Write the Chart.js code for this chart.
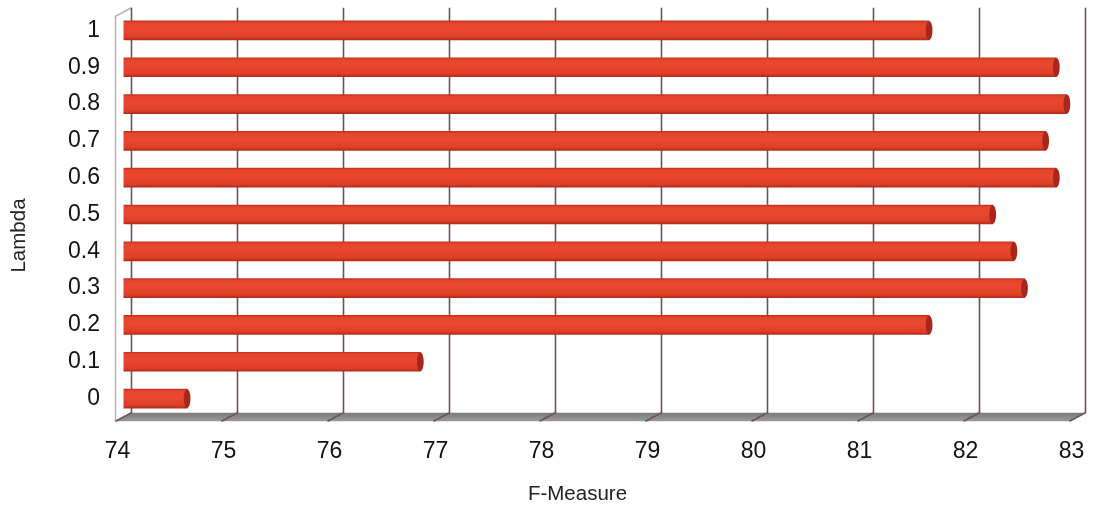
<!DOCTYPE html>
<html lang="en">
<head>
    <meta charset="UTF-8">
    <title>F-Measure by Lambda</title>
    <script src="https://cdn.jsdelivr.net/npm/chart.js"></script>
    <style>
        html, body { margin: 0; padding: 0; background: #fff; }
        .chart-box { width: 1095px; height: 508px; position: relative; }
    </style>
</head>
<body>
    <div class="chart-box">
        <canvas id="lambdaChart"></canvas>
    </div>

    <script>
        // Data (top row first)
        const lambdas = ['1', '0.9', '0.8', '0.7', '0.6', '0.5', '0.4', '0.3', '0.2', '0.1', '0'];
        const fMeasure = [81.6, 82.8, 82.9, 82.7, 82.8, 82.2, 82.4, 82.5, 81.6, 76.8, 74.6];
        const xMin = 74;
        const xMax = 83;
        const xStep = 1;

        const FONT = '"Liberation Sans", Arial, Helvetica, sans-serif';
        const BAR_RED = '#e4432a';
        const CAP_RED = '#a9271a';
        const GRID = '#6b5450';
        const DEPTH_X = 8;   // half of the fake 3D depth
        const DEPTH_Y = 4.25;
        const BAR_H = 19;

        // cylinder-ish shading for each bar
        function barFill(c) {
            const chart = c.chart;
            const ys = chart.scales && chart.scales.y;
            if (!chart.chartArea || !ys || c.dataIndex === undefined) return BAR_RED;
            const yc = ys.getPixelForValue(c.dataIndex);
            const g = chart.ctx.createLinearGradient(0, yc - BAR_H / 2, 0, yc + BAR_H / 2);
            g.addColorStop(0, '#c3341f');
            g.addColorStop(0.12, '#e6462d');
            g.addColorStop(0.45, '#e8482e');
            g.addColorStop(0.85, '#dd3f27');
            g.addColorStop(1, '#b02b1b');
            return g;
        }

        // floor, left wall and back gridlines
        const frame3d = {
            id: 'frame3d',
            beforeDatasetsDraw(chart) {
                const { ctx, chartArea: a, scales } = chart;
                const x = scales.x;
                ctx.save();

                // floor
                ctx.beginPath();
                ctx.moveTo(a.left + DEPTH_X, a.bottom - DEPTH_Y);
                ctx.lineTo(a.right + DEPTH_X, a.bottom - DEPTH_Y);
                ctx.lineTo(a.right - DEPTH_X, a.bottom + DEPTH_Y);
                ctx.lineTo(a.left - DEPTH_X, a.bottom + DEPTH_Y);
                ctx.closePath();
                const fg = ctx.createLinearGradient(0, a.bottom - DEPTH_Y, 0, a.bottom + DEPTH_Y);
                fg.addColorStop(0, '#7a7a7a');
                fg.addColorStop(1, '#9a9a9a');
                ctx.fillStyle = fg;
                ctx.fill();

                // left wall edge
                ctx.strokeStyle = '#b4b4b4';
                ctx.lineWidth = 1.5;
                ctx.beginPath();
                ctx.moveTo(a.left - DEPTH_X, a.bottom + DEPTH_Y);
                ctx.lineTo(a.left - DEPTH_X, a.top + DEPTH_Y);
                ctx.lineTo(a.left + DEPTH_X, a.top - DEPTH_Y);
                ctx.stroke();

                // gridlines on the back wall, folding down over the floor
                ctx.strokeStyle = GRID;
                ctx.lineWidth = 1.6;
                x.ticks.forEach(t => {
                    const px = x.getPixelForValue(t.value);
                    ctx.beginPath();
                    ctx.moveTo(px + DEPTH_X, a.top - DEPTH_Y);
                    ctx.lineTo(px + DEPTH_X, a.bottom - DEPTH_Y);
                    ctx.lineTo(px - DEPTH_X, a.bottom + DEPTH_Y);
                    ctx.stroke();
                });

                // rounded back end of each bar
                const meta = chart.getDatasetMeta(0);
                meta.data.forEach(bar => {
                    const p = bar.getProps(['base', 'y', 'height'], true);
                    ctx.fillStyle = '#e0412a';
                    ctx.beginPath();
                    ctx.ellipse(p.base, p.y, 3.2, p.height / 2, 0, 0, Math.PI * 2);
                    ctx.fill();
                });
                ctx.restore();
            },
            afterDatasetsDraw(chart) {
                const { ctx } = chart;
                const meta = chart.getDatasetMeta(0);
                ctx.save();
                meta.data.forEach(bar => {
                    const p = bar.getProps(['x', 'y', 'height'], true);
                    ctx.fillStyle = CAP_RED;
                    ctx.beginPath();
                    ctx.ellipse(p.x, p.y, 3.4, p.height / 2, 0, 0, Math.PI * 2);
                    ctx.fill();
                });
                ctx.restore();
            },
            afterDraw(chart) {
                const { ctx, chartArea: a } = chart;
                ctx.save();
                ctx.fillStyle = '#222';
                ctx.font = '20.5px ' + FONT;
                ctx.textAlign = 'center';
                ctx.textBaseline = 'middle';
                // axis titles sit a little off the plot centre in the reference
                ctx.fillText('F-Measure', (a.left + a.right) / 2 - 23, 494);
                ctx.translate(19, (a.top + a.bottom) / 2 + 21);
                ctx.rotate(-Math.PI / 2);
                ctx.fillText('Lambda', 0, 0);
                ctx.restore();
            }
        };

        const ctx = document.getElementById('lambdaChart').getContext('2d');
        const lambdaChart = new Chart(ctx, {
            type: 'bar',
            data: {
                labels: lambdas,
                datasets: [{
                    label: 'F-Measure',
                    data: fMeasure,
                    backgroundColor: barFill,
                    borderWidth: 0,
                    barThickness: BAR_H
                }]
            },
            options: {
                indexAxis: 'y',
                responsive: true,
                maintainAspectRatio: false,
                devicePixelRatio: 1,
                animation: false,
                layout: { padding: { top: 12, right: 17.5, left: 0, bottom: 0 } },
                plugins: {
                    legend: { display: false },
                    tooltip: { enabled: false }
                },
                scales: {
                    x: {
                        min: xMin,
                        max: xMax,
                        grid: { display: false, drawTicks: false },
                        border: { display: false },
                        ticks: {
                            stepSize: xStep,
                            labelOffset: -6,
                            padding: 21,
                            color: '#111',
                            font: { family: FONT, size: 23 }
                        },
                        afterFit: s => {
                            s.height = 91;
                            s.paddingLeft = 0;
                            s.paddingRight = 0;
                        }
                    },
                    y: {
                        grid: { display: false, drawTicks: false },
                        border: { display: false },
                        ticks: {
                            padding: 23.5,
                            color: '#111',
                            font: { family: FONT, size: 23 }
                        },
                        afterFit: s => {
                            s.width = 123.5;
                            s.paddingTop = 0;
                            s.paddingBottom = 0;
                        }
                    }
                }
            },
            plugins: [frame3d]
        });
    </script>
</body>
</html>
